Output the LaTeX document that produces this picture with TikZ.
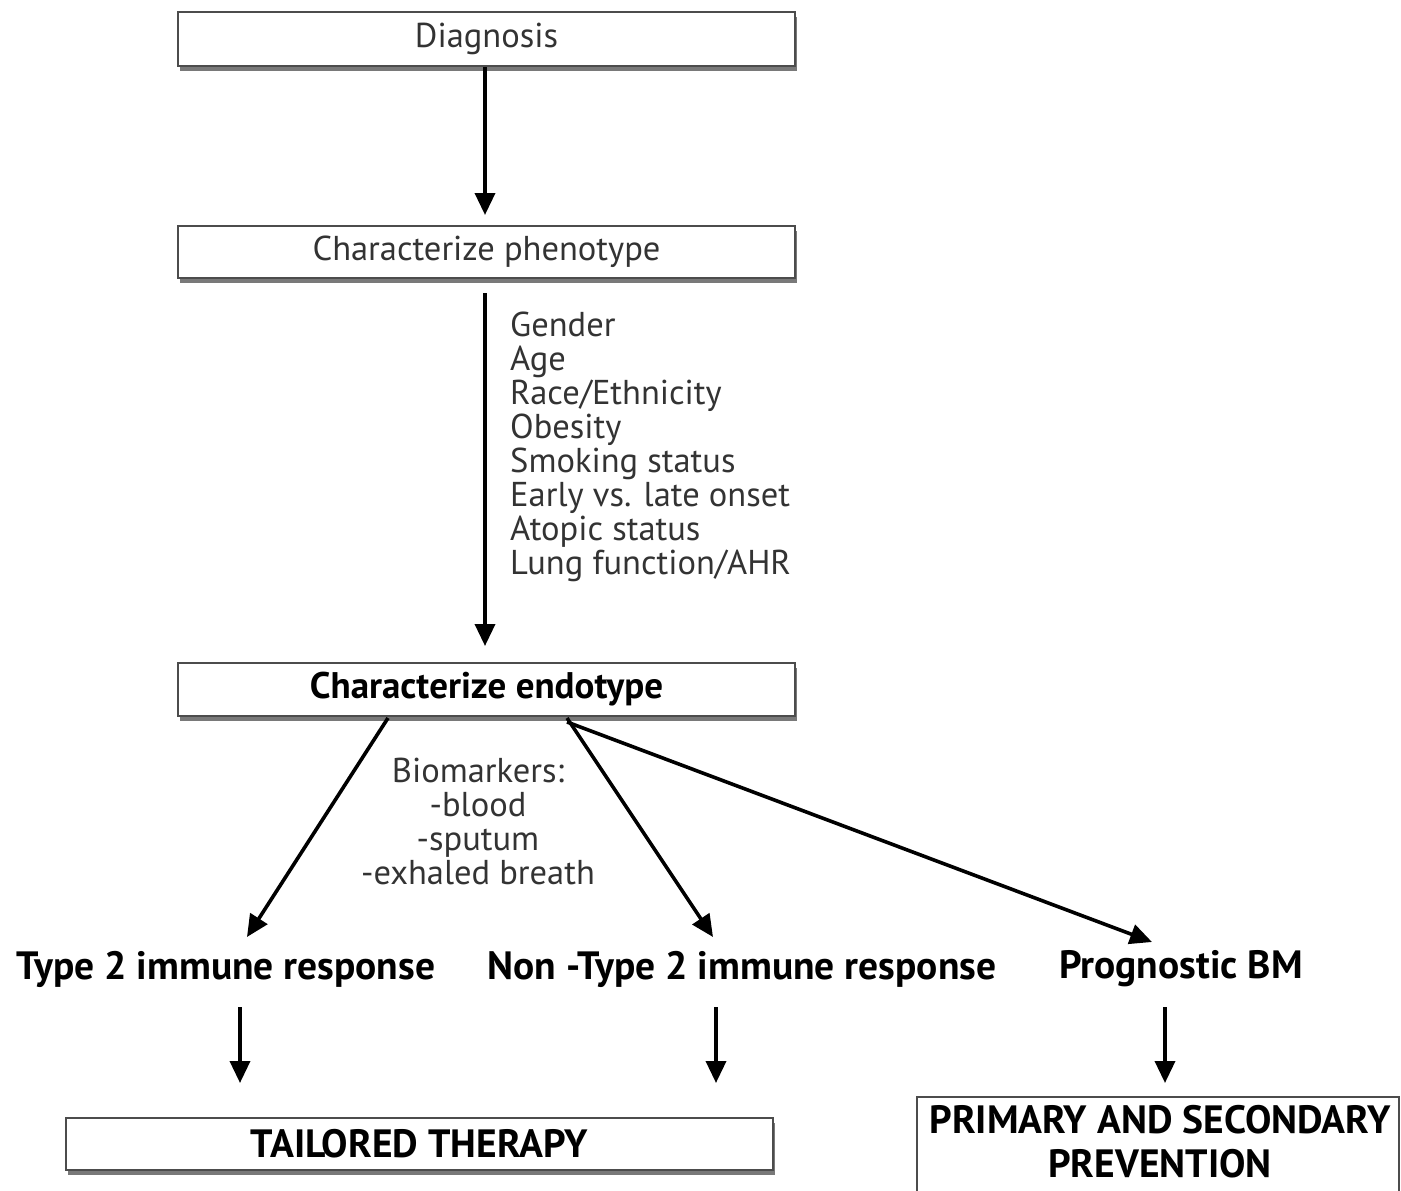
\documentclass[tikz,border=0pt]{standalone}
\usepackage{fontspec}
\setmainfont{PT Sans}
\usetikzlibrary{shadows,arrows.meta}
\begin{document}
\begin{tikzpicture}[x=1pt,y=-1pt,
  box/.style={draw=black!70,line width=1.8pt,fill=white,inner sep=0pt,
    drop shadow={shadow xshift=1.5pt,shadow yshift=-5pt,fill=black!75,opacity=.7}},
  arr/.style={line width=3.6pt,-{Triangle[length=22pt,width=20pt]}},
  txt/.style={font=\fontsize{34.5}{34}\selectfont,text=black!80},
  btxt/.style={font=\fontsize{39.5}{44}\selectfont\bfseries,text=black}]
\useasboundingbox (0,0) rectangle (1401,1191);
\node[box,minimum width=617pt,minimum height=54pt,txt] (diag) at (486.5,39) {Diagnosis};
\node[box,minimum width=617pt,minimum height=52pt,txt] (pheno) at (486.5,252) {Characterize phenotype};
\node[box,minimum width=617pt,minimum height=53pt,btxt,font=\fontsize{37}{44}\selectfont\bfseries] (endo) at (486.5,689.5) {Characterize endotype};
\node[box,minimum width=707pt,minimum height=52pt,btxt] (tail) at (419.5,1144) {TAILORED THERAPY};
\node[box,minimum width=482pt,minimum height=110pt,anchor=north west] (prev) at (916,1096) {};
\node[btxt,align=center,inner sep=0pt] (prevtxt) at (1160,1142) {PRIMARY AND SECONDARY\\PREVENTION};

\node[txt,align=left,anchor=north west,inner sep=0pt] (list) at (510,312)
 {Gender\\Age\\Race/Ethnicity\\Obesity\\Smoking status\\Early vs. late onset\\Atopic status\\Lung function/AHR};
\node[txt,align=center,inner sep=0pt] (bio) at (478,821)
 {Biomarkers:\\-blood\\-sputum\\-exhaled breath};

\node[btxt] (t2) at (226,969) {Type 2 immune response};
\node[btxt] (nt2) at (742,969) {Non -Type 2 immune response};
\node[btxt] (prog) at (1181,969) {Prognostic BM};

\coordinate (e1) at (388,718);
\coordinate (e2) at (567,718);
\coordinate (e3) at (567,722);
\coordinate (t2top) at (247,937);
\coordinate (nt2top) at (713,937);
\coordinate (progtop) at (1152,942);

\draw[arr] (diag.south -| 485,0) -- (485,215);
\draw[arr] (485,293) -- (485,646);
\draw[arr] (e1) -- (t2top);
\draw[arr] (e2) -- (nt2top);
\draw[arr] (e3) -- (progtop);

\coordinate (a1) at (240,1007);
\coordinate (a2) at (716,1007);
\coordinate (a3) at (1165,1007);
\draw[arr] (a1) -- (240,1083);
\draw[arr] (a2) -- (716,1083);
\draw[arr] (a3) -- (1165,1083);
\end{tikzpicture}
\end{document}
